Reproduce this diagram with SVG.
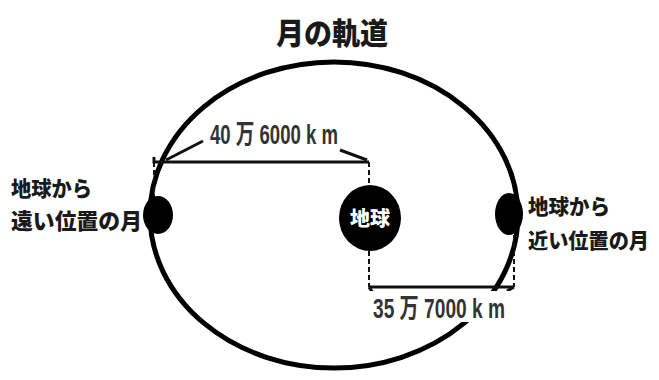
<svg xmlns="http://www.w3.org/2000/svg" width="659" height="380" viewBox="0 0 659 380">
<style>
.jp{font-family:"Noto Sans CJK JP","Noto Sans CJK SC",sans-serif;font-weight:900;fill:#1a1a1a}
.num{font-family:"Liberation Sans","Noto Sans CJK JP",sans-serif;font-weight:bold;fill:#333;font-size:27px}
.dim{stroke:#111;stroke-width:3;fill:none}
.dash{stroke:#111;stroke-width:2;stroke-dasharray:5 3;fill:none}
.body{fill:#000}
</style>
<rect width="659" height="380" fill="#fff"/>
<g id="title"><text class="jp" x="332" y="44" font-size="30" text-anchor="middle" textLength="112" lengthAdjust="spacingAndGlyphs">月の軌道</text></g>
<g id="orbit"><ellipse cx="334" cy="215" rx="184" ry="153" fill="none" stroke="#000" stroke-width="5"/></g>
<g id="connectors">
<line class="dash" x1="154" y1="162" x2="154" y2="198"/>
<line class="dash" x1="369" y1="162" x2="369" y2="186"/>
<line class="dash" x1="369" y1="251" x2="369" y2="287"/>
<line class="dash" x1="514" y1="235" x2="514" y2="287"/>
<polyline class="dim" points="154,157 154,162 369,162"/>
<line class="dim" x1="166" y1="160" x2="203" y2="141" stroke-width="2"/>
<line class="dim" x1="340" y1="150" x2="367" y2="160" stroke-width="2"/>
<line class="dim" x1="369" y1="287" x2="514" y2="287"/>
<path class="dim" d="M369,287 Q372,291 375,297" stroke-width="2"/>
<path class="dim" d="M514,287 L507,291" stroke-width="2"/>
</g>
<g id="earth">
<ellipse class="body" cx="370" cy="218" rx="31" ry="33"/>
<text class="jp" x="370" y="226" font-size="20" style="fill:#fff" text-anchor="middle">地球</text>
</g>
<g id="moon-far"><ellipse class="body" cx="158" cy="215" rx="15" ry="19"/></g>
<g id="moon-near"><ellipse class="body" cx="509" cy="214" rx="14" ry="21"/></g>
<g id="label-top"><text class="num" x="210" y="144" textLength="128" lengthAdjust="spacingAndGlyphs">40 万 6000 k m</text></g>
<g id="label-bottom">
<rect x="368" y="291" width="142" height="31" fill="#fff"/>
<text class="num" x="373" y="318" textLength="132" lengthAdjust="spacingAndGlyphs">35 万 7000 k m</text>
</g>
<g id="label-far">
<text class="jp" x="11" y="196" font-size="21" textLength="81" lengthAdjust="spacingAndGlyphs">地球から</text>
<text class="jp" x="11" y="229" font-size="22" textLength="131" lengthAdjust="spacingAndGlyphs">遠い位置の月</text>
</g>
<g id="label-near">
<text class="jp" x="528" y="214" font-size="21" textLength="82" lengthAdjust="spacingAndGlyphs">地球から</text>
<text class="jp" x="528" y="248" font-size="21" textLength="121" lengthAdjust="spacingAndGlyphs">近い位置の月</text>
</g>
</svg>
